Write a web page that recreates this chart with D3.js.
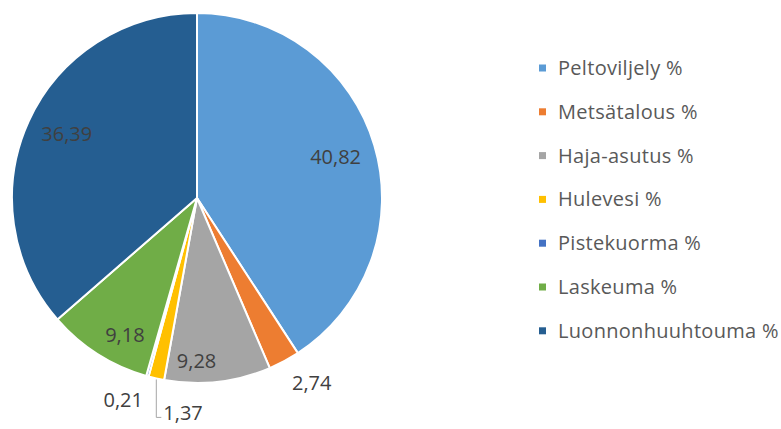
<!DOCTYPE html>
<html>
<head>
<meta charset="utf-8">
<script src="https://cdn.jsdelivr.net/npm/d3@7"></script>
<style>
  html, body { margin: 0; padding: 0; background: #fff; }
  svg { display: block; font-family: "Open Sans", "DejaVu Sans", sans-serif; }
</style>
</head>
<body>
<svg id="chart" width="781" height="429"></svg>
<script>
// Kuormituslähteiden osuudet (%)
const categories = ["Peltoviljely %", "Metsätalous %", "Haja-asutus %", "Hulevesi %",
                    "Pistekuorma %", "Laskeuma %", "Luonnonhuuhtouma %"];
const values = [40.82, 2.74, 9.28, 1.37, 0.21, 9.18, 36.39];
const valueLabels = ["40,82", "2,74", "9,28", "1,37", "0,21", "9,18", "36,39"];
const colors = ["#5B9BD5", "#ED7D31", "#A5A5A5", "#FFC000", "#4472C4", "#70AD47", "#255E91"];

const svg = d3.select("#chart");
const cx = 197, cy = 198, R = 185;
const fs = 20, capH = fs * 0.714;

const pie = d3.pie().sort(null).value(d => d);
const arcs = pie(values);
const arc = d3.arc().innerRadius(0).outerRadius(R);

const g = svg.append("g").attr("transform", `translate(${cx},${cy})`);

g.selectAll("path.slice")
  .data(arcs)
  .join("path")
  .attr("class", "slice")
  .attr("d", arc)
  .attr("fill", (d, i) => colors[i])
  .attr("stroke", "#fff")
  .attr("stroke-width", 2)
  .attr("stroke-linejoin", "round");

const mid = d => (d.startAngle + d.endAngle) / 2;
const placed = [];

function addLabel(i) {
  const t = g.append("text")
    .attr("font-size", fs)
    .attr("fill", "#404040")
    .text(valueLabels[i]);
  const w = t.node().getComputedTextLength();
  return { t, w };
}

// Inside labels: the label's outer corner sits just inside the rim.
// Outside labels: the label's inner corner sits just beyond the rim.
const order = d3.range(arcs.length).reverse();
order.forEach(i => {
  const d = arcs[i];
  const a = mid(d);
  const s = Math.sin(a), c = -Math.cos(a); // c > 0 means lower half
  const inside = values[i] >= 5;
  const { t, w } = addLabel(i);
  let left, top;
  if (inside) {
    const qx = s * R * 0.925, qy = c * R * 0.925;
    left = s >= 0 ? qx - w : qx;
    top = c > 0 ? qy - capH : qy;
  } else {
    const qx = s * R * 1.09, qy = c * R * 1.09;
    left = s >= 0 ? qx : qx - w;
    top = c > 0 ? qy : qy - capH;
  }
  let box = { x0: left, x1: left + w, y0: top, y1: top + capH };
  const hit = placed.find(b => box.x0 < b.x1 && box.x1 > b.x0 && box.y0 < b.y1 && box.y1 > b.y0);
  if (hit) {
    // move the label below its neighbour and tie it to the slice with a leader line
    const ax = s * R, ay = c * R;
    top = hit.y0 + fs * 0.65;
    left = ax + 7;
    const ly = top + capH * 0.85;
    g.append("path")
      .attr("d", `M${ax},${ay + 1}V${ly}H${ax + 5}`)
      .attr("fill", "none")
      .attr("stroke", "#a6a6a6")
      .attr("stroke-width", 1);
    box = { x0: left, x1: left + w, y0: top, y1: top + capH };
  }
  placed.push(box);
  t.attr("x", left).attr("y", top + capH);
});

// Legend
const legend = svg.append("g").attr("transform", "translate(539,68)");
const rowH = 43.8;
const item = legend.selectAll("g.item")
  .data(categories)
  .join("g")
  .attr("class", "item")
  .attr("transform", (d, i) => `translate(0,${i * rowH})`);
item.append("rect")
  .attr("x", 0).attr("y", -3.5)
  .attr("width", 7).attr("height", 7)
  .attr("fill", (d, i) => colors[i]);
item.append("text")
  .attr("x", 19)
  .attr("y", 7)
  .attr("font-size", 20)
  .attr("letter-spacing", 0.3)
  .attr("fill", "#595959")
  .text(d => d);
</script>
</body>
</html>
